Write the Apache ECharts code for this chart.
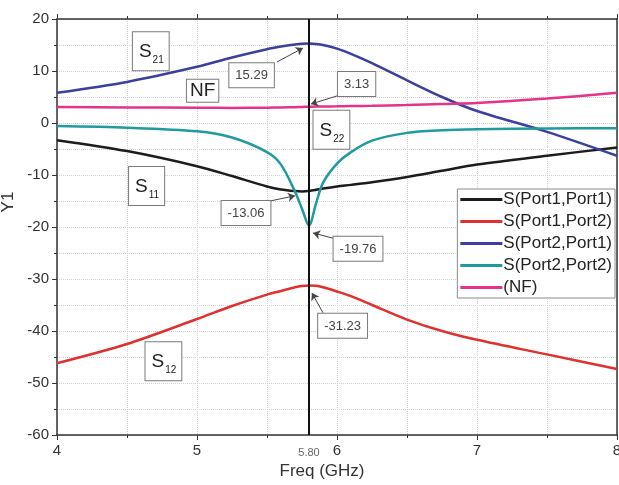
<!DOCTYPE html>
<html>
<head>
<meta charset="utf-8">
<script src="https://cdn.jsdelivr.net/npm/echarts@6/dist/echarts.min.js"></script>
<style>
    html, body { margin: 0; padding: 0; background: #fff; }
    #chart { width: 619px; height: 485px; }
</style>
</head>
<body>
<div id="chart"></div>
<script>
// ---------------------- 数据 ----------------------
const freq = [4, 4.5, 5, 5.25, 5.5, 5.6, 5.7, 5.75, 5.8, 5.85, 5.9, 6, 6.1, 6.25, 6.5, 6.75, 7, 7.5, 8];
const s11 = [-3.3, -5.4, -8.3, -10.2, -12.2, -12.8, -13.1, -13.15, -13.06, -12.85, -12.6, -12.2, -11.9, -11.4, -10.4, -9.2, -8.0, -6.3, -4.7];
const s12 = [-46.2, -42.5, -37.7, -35.2, -33.0, -32.3, -31.6, -31.35, -31.23, -31.3, -31.6, -32.4, -33.3, -35.0, -37.8, -40.0, -41.7, -44.5, -47.3];
const s21 = [5.8, 7.9, 10.8, 12.6, 14.2, 14.7, 15.1, 15.25, 15.29, 15.2, 15.0, 14.3, 13.3, 11.5, 8.2, 5.0, 2.3, -1.7, -6.3];
const s22 = [-0.6, -0.9, -1.6, -2.8, -5.6, -8.0, -13.2, -16.5, -19.76, -15.5, -11.5, -7.8, -5.6, -3.4, -1.9, -1.4, -1.2, -1.05, -1.0];
const nf = [3.1, 3.0, 2.95, 2.9, 2.95, 3.0, 3.05, 3.1, 3.13, 3.15, 3.17, 3.2, 3.25, 3.3, 3.45, 3.65, 3.85, 4.7, 5.8];

const seriesNames = ['S(Port1,Port1)', 'S(Port1,Port2)', 'S(Port2,Port1)', 'S(Port2,Port2)', '(NF)'];
const seriesColors = ['#1c1c1c', '#e0312f', '#3b3f9f', '#1f9ba0', '#e5328a'];
const markerFreq = 5.8;

// 标注框：数据坐标 + 文本
const notes = [
    { at: [4.67, 13.8], text: '{s|S}{sub|21}', big: true },
    { at: [5.04, 6.2], text: 'NF', big: true },
    { at: [5.96, -1.3], text: '{s|S}{sub|22}', big: true },
    { at: [4.64, -12.1], text: '{s|S}{sub|11}', big: true },
    { at: [4.76, -45.8], text: '{s|S}{sub|12}', big: true },
    { at: [5.39, 9.2], text: '15.29' },
    { at: [6.14, 7.5], text: '3.13' },
    { at: [5.35, -17.3], text: '-13.06' },
    { at: [6.15, -24.2], text: '-19.76' },
    { at: [6.04, -39.0], text: '-31.23' }
];
// 箭头：起点 -> 终点 (数据坐标)
const arrows = [
    [[5.571, 11.73], [5.757, 14.42]],
    [[6.021, 5.38], [5.814, 3.65]],
    [[5.521, -15.0], [5.70, -14.0]],
    [[5.993, -22.3], [5.829, -21.15]],
    [[5.90, -36.5], [5.821, -32.7]]
];

const FONT = 'Liberation Sans, Arial, sans-serif';
const pairs = ys => freq.map((f, i) => [f, ys[i]]);

const chart = echarts.init(document.getElementById('chart'));

const allData = [s11, s12, s21, s22, nf];
const series = allData.map((ys, i) => ({
    name: seriesNames[i],
    type: 'line',
    xAxisIndex: 0,
    yAxisIndex: 0,
    data: pairs(ys),
    smooth: 0.3,
    showSymbol: false,
    symbol: 'none',
    lineStyle: { color: seriesColors[i], width: 2.5 },
    itemStyle: { color: seriesColors[i] },
    z: 3
}));

// 竖线 + 箭头
series[0].markLine = {
    silent: true,
    symbol: ['none', 'none'],
    animation: false,
    data: [
        [
            { coord: [markerFreq, -60], lineStyle: { color: '#111', width: 2, type: 'solid' },
              label: { show: true, position: 'start', formatter: '5.80', distance: 12, color: '#666', fontSize: 11, fontFamily: FONT } },
            { coord: [markerFreq, 20] }
        ]
    ]
};
series[1].markLine = {
    silent: true,
    symbol: ['none', 'arrow'],
    symbolSize: 7,
    animation: false,
    label: { show: false },
    lineStyle: { color: '#444', width: 1, type: 'solid' },
    data: arrows.map(a => [{ coord: a[0] }, { coord: a[1] }])
};

const gridLine = { show: true, lineStyle: { color: '#d2d2d2', type: 'dotted', width: 1 } };
const frameLine = { show: true, onZero: false, lineStyle: { color: '#333', width: 1.5 } };

chart.setOption({
    animation: false,
    backgroundColor: '#fff',
    grid: { left: 57, right: 2, top: 19, bottom: 50, outerBoundsMode: 'none', containLabel: false },
    legend: {
        orient: 'vertical',
        right: 4,
        top: 189,
        data: seriesNames,
        icon: 'rect',
        itemWidth: 42,
        itemHeight: 3,
        itemGap: 5,
        padding: [2, 3, 2, 3],
        backgroundColor: '#fff',
        borderColor: '#8a8a8a',
        borderWidth: 1,
        textStyle: { fontFamily: FONT, fontSize: 17, color: '#222', padding: [0, 0, 0, -4] }
    },
    xAxis: [
        {
            type: 'value',
            min: 4, max: 8, interval: 1,
            name: 'Freq (GHz)',
            nameLocation: 'middle',
            nameGap: 27,
            nameTextStyle: { fontFamily: FONT, fontSize: 17, color: '#333', padding: [0, 30, 0, 0] },
            axisLine: frameLine,
            axisTick: { show: true, inside: false, length: 5, lineStyle: { color: '#333' } },
            minorTick: { show: true, splitNumber: 2, length: 3, lineStyle: { color: '#333' } },
            axisLabel: { fontFamily: FONT, fontSize: 15, color: '#333', margin: 8 },
            splitLine: gridLine,
            minorSplitLine: gridLine
        },
        {
            type: 'value',
            position: 'top',
            min: 4, max: 8, interval: 1,
            axisLine: frameLine,
            axisTick: { show: true, inside: false, length: 5, lineStyle: { color: '#333' } },
            minorTick: { show: true, splitNumber: 2, length: 3, lineStyle: { color: '#333' } },
            axisLabel: { show: false },
            splitLine: { show: false }
        }
    ],
    yAxis: [
        {
            type: 'value',
            min: -60, max: 20, interval: 10,
            name: 'Y1',
            nameLocation: 'middle',
            nameGap: 40,
            nameTextStyle: { fontFamily: FONT, fontSize: 17, color: '#333', padding: [0, 0, 0, 50] },
            axisLine: frameLine,
            axisTick: { show: true, inside: false, length: 5, lineStyle: { color: '#333' } },
            minorTick: { show: true, splitNumber: 2, length: 3, lineStyle: { color: '#333' } },
            axisLabel: { fontFamily: FONT, fontSize: 15, color: '#333', margin: 8 },
            splitLine: gridLine,
            minorSplitLine: gridLine
        },
        {
            type: 'value',
            position: 'right',
            min: -60, max: 20, interval: 10,
            axisLine: frameLine,
            axisTick: { show: false },
            axisLabel: { show: false },
            splitLine: { show: false }
        }
    ],
    series: series
});

// 标注框
chart.setOption({
    graphic: notes.map(n => {
        const p = chart.convertToPixel({ gridIndex: 0 }, n.at);
        return {
            type: 'text',
            x: p[0], y: p[1],
            z: 10,
            style: {
                text: n.text,
                align: 'center',
                verticalAlign: 'middle',
                fontFamily: FONT,
                fontSize: n.big ? 19 : 13,
                fill: n.big ? '#222' : '#444',
                backgroundColor: '#fff',
                borderColor: '#7a7a7a',
                borderWidth: 1,
                padding: n.big ? (n.text === 'NF' ? [2, 3, 1, 3] : [7, 5, 5, 6]) : [6, 6, 5, 6],
                rich: {
                    s: { fontFamily: FONT, fontSize: 19, fill: '#222' },
                    sub: { fontFamily: FONT, fontSize: 10, fill: '#222', padding: [16, 0, 0, 1] }
                }
            }
        };
    })
});
</script>
</body>
</html>
